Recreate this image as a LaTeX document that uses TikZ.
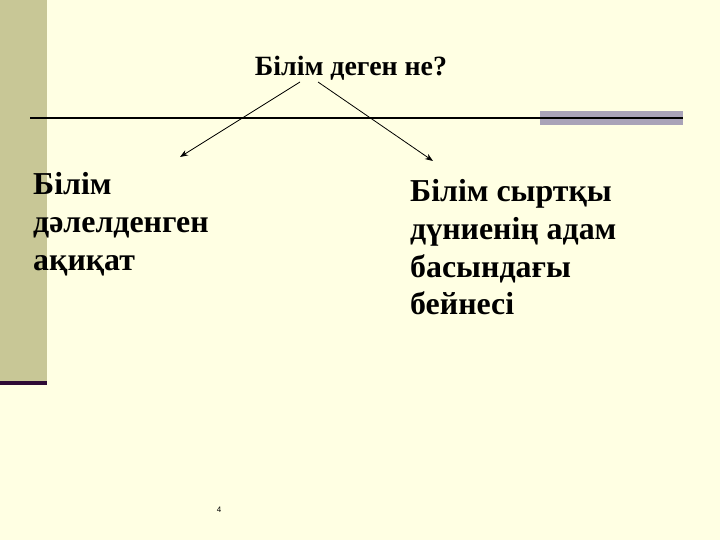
\documentclass[tikz,border=0pt]{standalone}
\usepackage{fontspec}
\usetikzlibrary{arrows.meta}
\setmainfont{Liberation Serif}
\newfontfamily\numfont{Liberation Sans}
\definecolor{bg}{HTML}{FFFFE3}
\definecolor{olive}{HTML}{C8C796}
\definecolor{plum}{HTML}{2E0A35}
\definecolor{greybar}{HTML}{A9A3B8}
\begin{document}
\begin{tikzpicture}[x=1bp,y=-1bp,
  body/.style={font=\fontsize{32}{38}\selectfont\bfseries, align=left, inner sep=0pt, anchor=north west},
  arr/.style={-{Stealth[length=8bp,width=6bp]}, line width=0.8bp}]
\useasboundingbox (0,0) rectangle (720,540);
\fill[bg] (0,0) rectangle (720,540);
\fill[olive] (0,0) rectangle (47,381);
\fill[plum] (0,381) rectangle (47,385);
\fill[greybar] (540,111) rectangle (683,125);
\draw[line width=1.8bp] (30,118) -- (683,118);
\node[font=\fontsize{28}{30}\selectfont\bfseries, inner sep=0pt] (title) at (351,68) {Білім деген не?};
\coordinate (s1) at (300,82);
\coordinate (s2) at (318,82);
\coordinate (e1) at (180,157);
\coordinate (e2) at (433,161);
\draw[arr] (s1) -- (e1);
\draw[arr] (s2) -- (e2);
\node[body] (left) at (33,172) {Білім\\дәлелденген\\ақиқат};
\node[body] (right) at (410,179) {Білім сыртқы\\дүниенің адам\\басындағы\\бейнесі};
\node[font=\numfont\fontsize{8}{9}\selectfont, inner sep=0pt] (num) at (219,510) {4};
\end{tikzpicture}
\end{document}
